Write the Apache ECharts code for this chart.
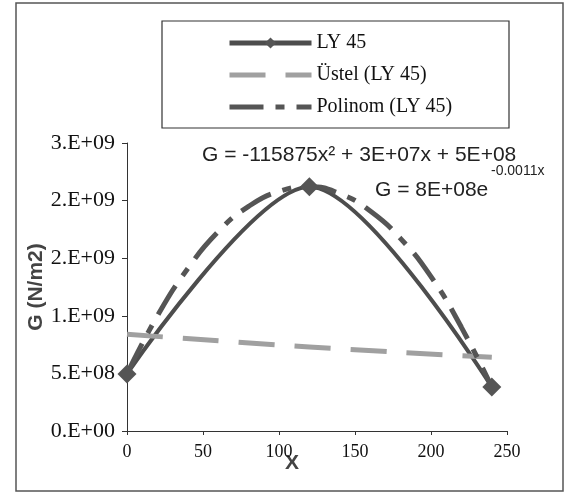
<!DOCTYPE html>
<html>
<head>
<meta charset="utf-8">
<script src="https://cdn.jsdelivr.net/npm/echarts@6/dist/echarts.min.js"></script>
<style>
  html, body {margin: 0; padding: 0; background: #fff;}
  #chart {width: 581px; height: 493px;}
</style>
</head>
<body>
<div id="chart"></div>
<script>
  // measured points
  let xValues = [0, 120, 240]
  let gValues = [4.95e8, 2.12e9, 3.82e8]

  // trend lines
  let expX = [0, 120, 240]
  let expValues = [8.4e8, 7.3e8, 6.4e8]
  let polyX = [0, 20, 40, 60, 80, 100, 120, 140, 160, 180, 200, 220, 240]
  let polyValues = [4.95e8, 1.0e9, 1.41e9, 1.73e9, 1.95e9, 2.08e9, 2.12e9, 2.06e9, 1.91e9, 1.67e9, 1.34e9, 9.0e8, 3.8e8]

  let yTickLabels = ['0.E+00', '5.E+08', '1.E+09', '2.E+09', '2.E+09', '3.E+09']

  function pairs(xs, ys) {
    return xs.map((x, i) => [x, ys[i]])
  }

  let serif = 'Liberation Serif'
  let sans = 'Liberation Sans'

  let mychart = echarts.init(document.getElementById('chart'))
  let option = {
    animation: false,
    grid: {
      left: 127,
      right: 74,
      top: 143,
      bottom: 62
    },
    legend: {
      orient: 'vertical',
      left: 227,
      top: 33,
      padding: 0,
      itemWidth: 82,
      itemHeight: 14,
      itemGap: 12,
      lineStyle: {width: 5},
      data: [
        {name: 'LY 45'},
        {name: 'Üstel (LY 45)', itemStyle: {opacity: 0}},
        {name: 'Polinom (LY 45)', itemStyle: {opacity: 0}}
      ],
      textStyle: {
        fontFamily: serif,
        fontSize: 20,
        color: '#111'
      }
    },
    xAxis: {
      type: 'value',
      min: 0,
      max: 250,
      interval: 50,
      axisLine: {lineStyle: {color: '#333'}},
      axisTick: {length: 4, lineStyle: {color: '#333'}},
      splitLine: {show: false},
      axisLabel: {
        margin: 12,
        fontFamily: serif,
        fontSize: 18,
        color: '#111'
      }
    },
    yAxis: {
      type: 'value',
      min: 0,
      max: 2.5e9,
      interval: 5e8,
      name: 'G (N/m2)',
      nameLocation: 'middle',
      nameGap: 80,
      nameMoveOverlap: false,
      nameTextStyle: {
        fontFamily: sans,
        fontSize: 21,
        fontWeight: 'bold',
        color: '#444'
      },
      axisLine: {show: true, lineStyle: {color: '#333'}},
      axisTick: {show: true, length: 5, lineStyle: {color: '#333'}},
      splitLine: {show: false},
      axisLabel: {
        margin: 12,
        fontFamily: serif,
        fontSize: 22,
        color: '#111',
        formatter: function (val) {
          return yTickLabels[Math.round(val / 5e8)]
        }
      }
    },
    graphic: [
      {
        type: 'rect',
        shape: {x: 16, y: 3, width: 547, height: 488},
        style: {fill: 'none', stroke: '#555', lineWidth: 1.5},
        silent: true
      },
      {
        type: 'rect',
        shape: {x: 162, y: 21, width: 347, height: 107},
        style: {fill: 'none', stroke: '#333', lineWidth: 1.2},
        silent: true
      },
      {
        type: 'text',
        x: 202,
        y: 155,
        style: {
          text: 'G = -115875x² + 3E+07x + 5E+08',
          fontFamily: sans,
          fontSize: 21,
          fill: '#222',
          verticalAlign: 'middle'
        }
      },
      {
        type: 'text',
        x: 375,
        y: 190,
        style: {
          text: 'G = 8E+08e',
          fontFamily: sans,
          fontSize: 21,
          fill: '#222',
          verticalAlign: 'middle'
        }
      },
      {
        type: 'text',
        x: 491,
        y: 171,
        style: {
          text: '-0.0011x',
          fontFamily: sans,
          fontSize: 14,
          fill: '#222',
          verticalAlign: 'middle'
        }
      },
      {
        type: 'text',
        x: 292,
        y: 463,
        style: {
          text: 'X',
          fontFamily: sans,
          fontSize: 21,
          fontWeight: 'bold',
          fill: '#444',
          align: 'center',
          verticalAlign: 'middle'
        }
      }
    ],
    series: [
      {
        name: 'LY 45',
        type: 'line',
        smooth: 0.3,
        symbol: 'diamond',
        symbolSize: 19,
        itemStyle: {color: '#555'},
        lineStyle: {color: '#4d4d4d', width: 4},
        data: pairs(xValues, gValues)
      },
      {
        name: 'Üstel (LY 45)',
        type: 'line',
        smooth: true,
        symbol: 'none',
        itemStyle: {color: '#a0a0a0'},
        lineStyle: {color: '#a0a0a0', width: 5, type: [36, 20]},
        data: pairs(expX, expValues)
      },
      {
        name: 'Polinom (LY 45)',
        type: 'line',
        smooth: true,
        symbol: 'none',
        itemStyle: {color: '#555'},
        lineStyle: {color: '#555', width: 5, type: [34, 12, 9, 12]},
        data: pairs(polyX, polyValues)
      }
    ]
  }
  mychart.setOption(option)
</script>
</body>
</html>
